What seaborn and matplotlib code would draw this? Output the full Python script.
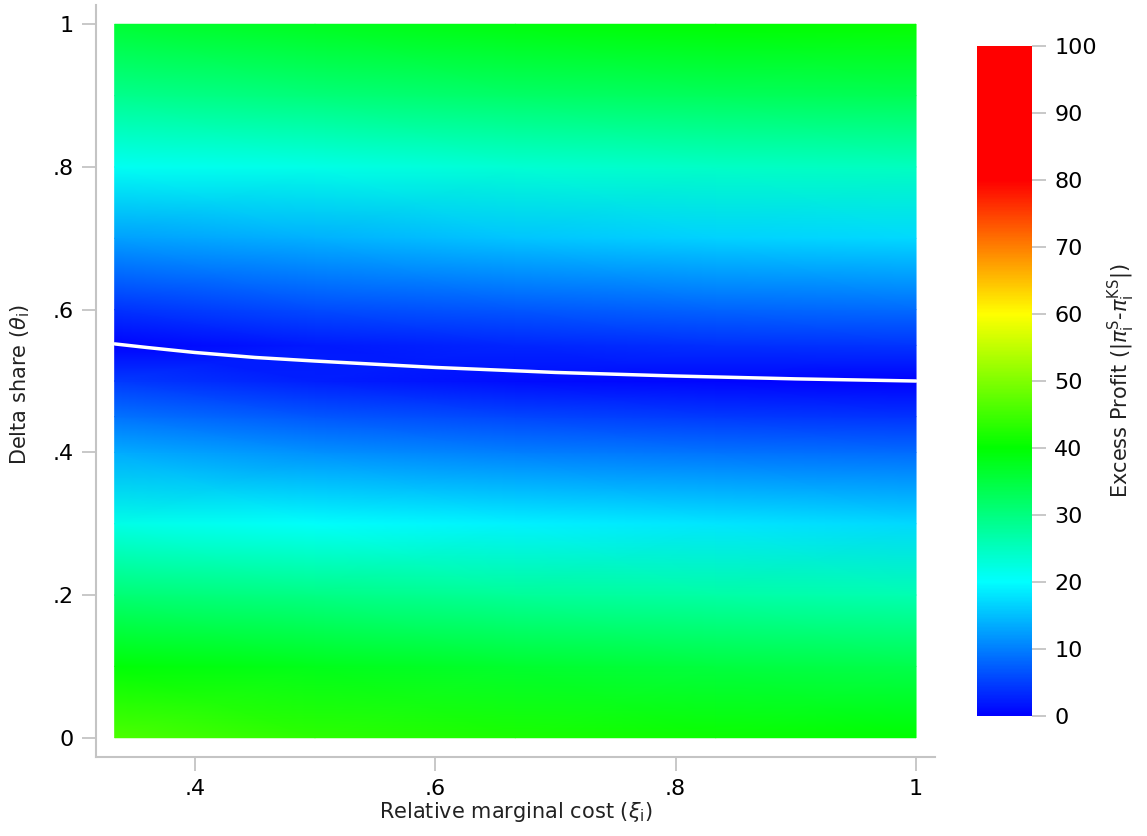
import numpy as np
import pandas as pd
import matplotlib
matplotlib.use("Agg")
import matplotlib.pyplot as plt
from matplotlib.colors import LinearSegmentedColormap, Normalize
import seaborn as sns

# ---- data ----
xi_grid = [1/3, 0.5, 2/3, 5/6, 1.0]
theta_grid = [0.0, 0.1, 0.2, 0.3, 0.4, 0.45, 0.5, 0.55, 0.6, 0.7, 0.8, 0.9, 1.0]
# excess profit, one list per theta row (columns follow xi_grid)
profit_t000 = [46.0, 43.5, 42.0, 41.0, 40.0]
profit_t010 = [39.5, 38.0, 36.5, 35.0, 34.0]
profit_t020 = [31.0, 29.5, 28.0, 27.0, 26.0]
profit_t030 = [22.0, 20.5, 19.0, 18.0, 17.0]
profit_t040 = [13.5, 11.5, 10.0, 9.0, 8.5]
profit_t045 = [9.0, 7.0, 5.5, 4.6, 4.0]
profit_t050 = [4.5, 2.5, 1.0, 0.4, 0.0]
profit_t055 = [0.2, 2.0, 3.0, 3.8, 4.2]
profit_t060 = [4.0, 6.0, 7.0, 8.0, 8.5]
profit_t070 = [12.5, 14.0, 15.5, 16.5, 17.0]
profit_t080 = [21.0, 22.0, 23.5, 24.5, 25.0]
profit_t090 = [29.0, 30.5, 32.0, 33.0, 33.5]
profit_t100 = [36.0, 37.5, 39.0, 40.0, 40.5]

# zero excess-profit curve
xi_line = [1/3, 0.36, 0.4, 0.45, 0.5, 0.6, 0.7, 0.8, 0.9, 1.0]
theta_line = [0.552, 0.547, 0.540, 0.533, 0.528, 0.519, 0.512, 0.507, 0.503, 0.500]

cbar_ticks = [0, 10, 20, 30, 40, 50, 60, 70, 80, 90, 100]
x_ticks = [0.4, 0.6, 0.8, 1.0]
x_ticklabels = [".4", ".6", ".8", "1"]
y_ticks = [0, 0.2, 0.4, 0.6, 0.8, 1.0]
y_ticklabels = ["0", ".2", ".4", ".6", ".8", "1"]

# ---- figure ----
sns.set_theme(style="ticks")
plt.rcParams["font.family"] = ["DejaVu Sans"]

Z = np.array([profit_t000, profit_t010, profit_t020, profit_t030, profit_t040,
              profit_t045, profit_t050, profit_t055, profit_t060, profit_t070,
              profit_t080, profit_t090, profit_t100])
X, Y = np.meshgrid(xi_grid, theta_grid)

cmap = LinearSegmentedColormap.from_list(
    "stata_hue",
    [(0.0, (0, 0, 1)), (0.2, (0, 1, 1)), (0.4, (0, 1, 0)),
     (0.6, (1, 1, 0)), (0.8, (1, 0, 0)), (1.0, (1, 0, 0))], N=512)
norm = Normalize(0, 100)

fig = plt.figure(figsize=(11.47, 8.36), dpi=100)
ax = fig.add_axes([0.0837, 0.0945, 0.7315, 0.8995])
mesh = ax.pcolormesh(X, Y, Z, cmap=cmap, norm=norm, shading="gouraud", rasterized=True)
sns.lineplot(x=xi_line, y=theta_line, color="white", linewidth=2.5, ax=ax, legend=False)

ax.set_xlim(0.3178, 1.0158)
ax.set_ylim(-0.027, 1.027)
ax.set_xticks(x_ticks)
ax.set_xticklabels(x_ticklabels)
ax.set_yticks(y_ticks)
ax.set_yticklabels(y_ticklabels)
for s in ["top", "right"]:
    ax.spines[s].set_visible(False)
for s in ["left", "bottom"]:
    ax.spines[s].set_color("#c4c4c4")
    ax.spines[s].set_linewidth(1.5)
ax.tick_params(axis="both", which="major", length=10, width=1.3, color="#c4c4c4",
               labelsize=16, labelcolor="black", pad=6, direction="out")
ax.set_facecolor("white")

ax.set_xlabel(r"Relative marginal cost ($\xi_\mathregular{i}$)", fontsize=15, color="#222222")
ax.xaxis.label.set_va("center")
ax.xaxis.set_label_coords(0.5, -0.073)
ax.set_ylabel(r"Delta share ($\theta_\mathregular{i}$)", fontsize=15, color="#222222")
ax.yaxis.label.set_va("center")
ax.yaxis.set_label_coords(-0.0906, 0.495)

cax = fig.add_axes([0.8518, 0.1435, 0.048, 0.8014])
cb = fig.colorbar(mesh, cax=cax)
cb.outline.set_visible(False)
cb.set_ticks(cbar_ticks)
cax.tick_params(length=10, width=1.3, color="#c4c4c4", labelsize=16, labelcolor="black", pad=6)
cb.set_label(r"Excess Profit ($|\pi_\mathregular{i}^\mathregular{S}$-$\pi_\mathregular{i}^\mathregular{KS}|$)",
             fontsize=15, color="#222222")
cax.yaxis.label.set_va("center")
cax.yaxis.set_label_coords(2.62, 0.5)

fig.savefig("out.png", dpi=100, facecolor="white")
